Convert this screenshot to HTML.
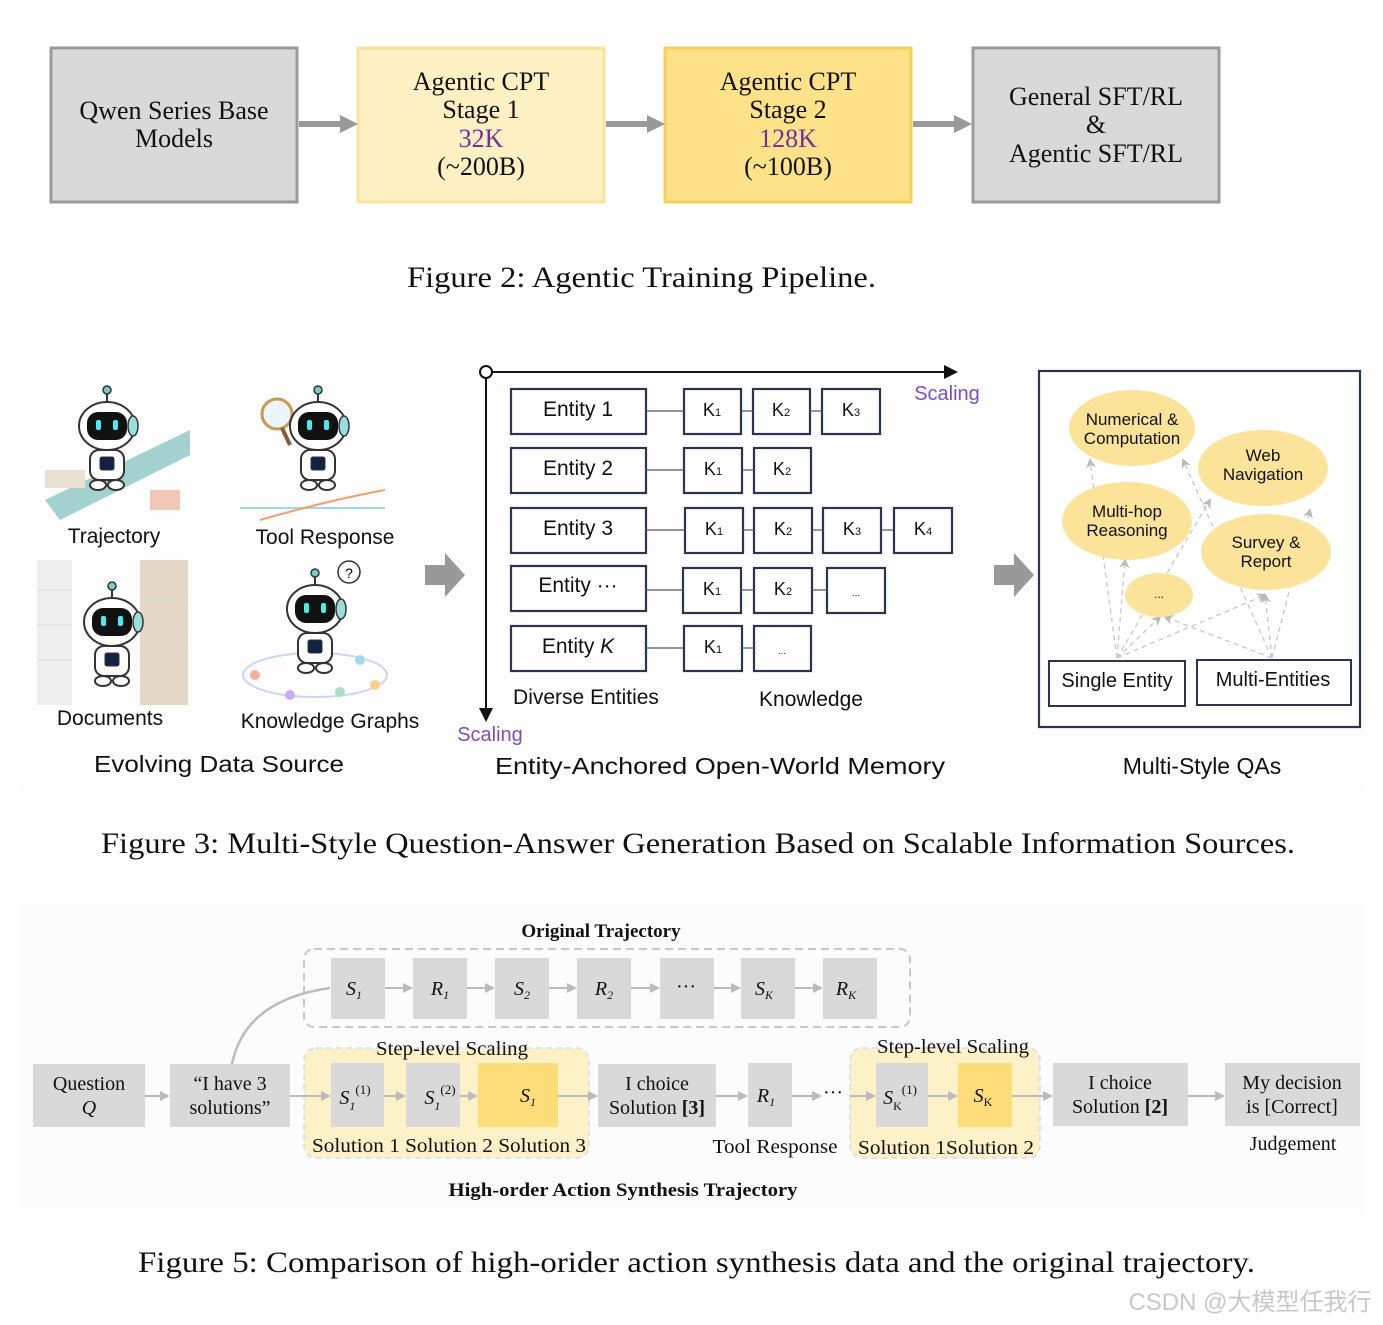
<!DOCTYPE html>
<html><head><meta charset="utf-8"><style>
body{margin:0;background:#fff;}
svg{display:block;}
.serif{font-family:"Liberation Serif",serif;}
.sans{font-family:"Liberation Sans","DejaVu Sans",sans-serif;}
</style></head><body>
<svg width="1383" height="1325" viewBox="0 0 1383 1325" xmlns="http://www.w3.org/2000/svg">
<defs>
<marker id="al" markerWidth="10" markerHeight="10" refX="8" refY="5" orient="auto" markerUnits="userSpaceOnUse"><path d="M0,0 L10,5 L0,10 z" fill="#bbb"/></marker>
<marker id="ab" markerWidth="14" markerHeight="14" refX="12" refY="7" orient="auto" markerUnits="userSpaceOnUse"><path d="M0,0 L14,7 L0,14 z" fill="#111"/></marker>
<marker id="ad" markerWidth="10" markerHeight="10" refX="8" refY="5" orient="auto" markerUnits="userSpaceOnUse"><path d="M0,0 L10,5 L0,10 L3,5 z" fill="#bbb"/></marker>
<g id="robot">
 <line x1="0" y1="-40" x2="0" y2="-28" stroke="#333" stroke-width="2"/>
 <circle cx="0" cy="-42" r="4" fill="#7cc9c9" stroke="#333" stroke-width="1.5"/>
 <ellipse cx="0" cy="-6" rx="28" ry="24" fill="#fff" stroke="#333" stroke-width="2"/>
 <rect x="-20" y="-20" width="40" height="28" rx="11" fill="#111"/>
 <rect x="-11" y="-12" width="5" height="10" rx="2" fill="#4ee"/>
 <rect x="6" y="-12" width="5" height="10" rx="2" fill="#4ee"/>
 <ellipse cx="26" cy="-6" rx="5" ry="10" fill="#9dd" stroke="#333" stroke-width="1.5"/>
 <rect x="-17" y="18" width="34" height="30" rx="9" fill="#fff" stroke="#333" stroke-width="2"/>
 <rect x="-7" y="25" width="14" height="13" rx="2" fill="#124" stroke="#333"/>
 <ellipse cx="-9" cy="53" rx="8" ry="5" fill="#fff" stroke="#333" stroke-width="2"/>
 <ellipse cx="9" cy="53" rx="8" ry="5" fill="#fff" stroke="#333" stroke-width="2"/>
</g>
</defs>

<!-- Figure 2 -->
<g class="serif" font-size="26" text-anchor="middle" fill="#111">
<rect x="51" y="48" width="246" height="154" fill="#d9d9d9" stroke="#9a9a9a" stroke-width="3"/>
<text x="174" y="119">Qwen Series Base</text><text x="174" y="147">Models</text>
<rect x="358" y="48" width="246" height="154" fill="#fdf0c2" stroke="#fbe29a" stroke-width="3"/>
<text x="481" y="90">Agentic CPT</text><text x="481" y="118">Stage 1</text>
<text x="481" y="147" fill="#7030a0">32K</text><text x="481" y="175">(~200B)</text>
<rect x="665" y="48" width="246" height="154" fill="#fde28a" stroke="#f8cf55" stroke-width="3"/>
<text x="788" y="90">Agentic CPT</text><text x="788" y="118">Stage 2</text>
<text x="788" y="147" fill="#7030a0">128K</text><text x="788" y="175">(~100B)</text>
<rect x="973" y="48" width="246" height="154" fill="#d9d9d9" stroke="#9a9a9a" stroke-width="3"/>
<text x="1096" y="105">General SFT/RL</text><text x="1096" y="133">&amp;</text><text x="1096" y="162">Agentic SFT/RL</text>
</g>
<g fill="#999">
<rect x="299" y="121" width="42" height="6"/><path d="M340,115 L358,124 L340,133z"/>
<rect x="606" y="121" width="42" height="6"/><path d="M647,115 L665,124 L647,133z"/>
<rect x="913" y="121" width="42" height="6"/><path d="M954,115 L972,124 L954,133z"/>
</g>
<text class="serif" x="407" y="287" font-size="30" textLength="469" lengthAdjust="spacingAndGlyphs" fill="#111">Figure 2: Agentic Training Pipeline.</text>

<!-- Figure 3 left -->
<rect x="20" y="360" width="1345" height="430" fill="#fdfdfd"/>
<path d="M45,500 L190,430 L190,455 L60,520z" fill="#8cc6c4" opacity="0.8"/>
<rect x="45" y="470" width="40" height="18" fill="#e8e0d0"/>
<rect x="150" y="490" width="30" height="20" fill="#f3c7b5"/>
<use href="#robot" x="107" y="432"/>
<line x1="240" y1="508" x2="385" y2="508" stroke="#9dd" stroke-width="2"/>
<path d="M260,520 Q330,500 385,490" stroke="#f0a070" stroke-width="2" fill="none"/>
<circle cx="277" cy="414" r="15" fill="#eaf6fb" stroke="#c89a50" stroke-width="3"/>
<line x1="282" y1="428" x2="290" y2="445" stroke="#8a5a30" stroke-width="4"/>
<use href="#robot" x="318" y="432"/>
<rect x="37" y="560" width="35" height="145" fill="#eee"/>
<rect x="140" y="560" width="48" height="145" fill="#e6d8c8"/>
<g stroke="#ddd"><line x1="37" y1="590" x2="72" y2="590"/><line x1="37" y1="625" x2="72" y2="625"/><line x1="37" y1="660" x2="72" y2="660"/><line x1="140" y1="600" x2="188" y2="600"/><line x1="140" y1="640" x2="188" y2="640"/></g>
<use href="#robot" x="112" y="628"/>
<ellipse cx="315" cy="675" rx="72" ry="22" fill="none" stroke="#c8d8f0" stroke-width="2"/>
<g fill="#f2b0a0"><circle cx="255" cy="675" r="5"/><circle cx="360" cy="660" r="5" fill="#a8d8f0"/><circle cx="290" cy="695" r="5" fill="#c8b0f0"/><circle cx="340" cy="692" r="5" fill="#a8e0c0"/><circle cx="375" cy="685" r="5" fill="#f7d38a"/></g>
<use href="#robot" x="315" y="615"/>
<circle cx="349" cy="572" r="11" fill="#fff" stroke="#333" stroke-width="1.5"/><text x="349" y="578" font-size="14" text-anchor="middle" class="sans">?</text>
<g class="sans" font-size="21" fill="#111" text-anchor="middle">
<text x="114" y="543">Trajectory</text>
<text x="325" y="544">Tool Response</text>
<text x="110" y="725">Documents</text>
<text x="330" y="728">Knowledge Graphs</text>
<text x="219" y="772" font-size="23" textLength="250" lengthAdjust="spacingAndGlyphs">Evolving Data Source</text>
</g>
<path d="M425,565 L445,565 L445,553 L465,575 L445,597 L445,585 L425,585z" fill="#999"/>
<path d="M994,565 L1014,565 L1014,553 L1034,575 L1014,597 L1014,585 L994,585z" fill="#999"/>

<!-- Figure 3 middle -->
<line x1="486" y1="372" x2="956" y2="372" stroke="#111" stroke-width="2" marker-end="url(#ab)"/>
<line x1="486" y1="372" x2="486" y2="720" stroke="#111" stroke-width="2" marker-end="url(#ab)"/>
<circle cx="486" cy="372" r="6" fill="#fff" stroke="#111" stroke-width="2"/>
<g fill="#fff" stroke="#2a3550" stroke-width="2.2">
<rect x="511" y="389" width="135" height="45"/><rect x="511" y="448" width="135" height="45"/><rect x="511" y="508" width="135" height="45"/><rect x="511" y="566" width="135" height="45"/><rect x="511" y="626" width="135" height="45"/>
<rect x="684" y="389" width="57" height="45"/><rect x="753" y="389" width="57" height="45"/><rect x="822" y="389" width="58" height="45"/>
<rect x="684" y="448" width="58" height="45"/><rect x="754" y="448" width="57" height="45"/>
<rect x="685" y="508" width="58" height="45"/><rect x="754" y="508" width="58" height="45"/><rect x="823" y="508" width="58" height="45"/><rect x="894" y="508" width="58" height="45"/>
<rect x="683" y="568" width="58" height="45"/><rect x="754" y="568" width="58" height="45"/><rect x="827" y="568" width="58" height="45"/>
<rect x="684" y="626" width="58" height="45"/><rect x="754" y="626" width="57" height="45"/>
</g>
<g stroke="#555" stroke-width="1.2">
<line x1="646" y1="411" x2="684" y2="411"/><line x1="741" y1="411" x2="753" y2="411"/><line x1="810" y1="411" x2="822" y2="411"/>
<line x1="646" y1="470" x2="684" y2="470"/><line x1="742" y1="470" x2="754" y2="470"/>
<line x1="646" y1="530" x2="685" y2="530"/><line x1="743" y1="530" x2="754" y2="530"/><line x1="812" y1="530" x2="823" y2="530"/><line x1="881" y1="530" x2="894" y2="530"/>
<line x1="646" y1="590" x2="683" y2="590"/><line x1="741" y1="590" x2="754" y2="590"/><line x1="812" y1="590" x2="827" y2="590"/>
<line x1="646" y1="648" x2="684" y2="648"/><line x1="742" y1="648" x2="754" y2="648"/>
</g>
<g class="sans" font-size="21" fill="#111" text-anchor="middle">
<text x="578" y="416">Entity 1</text><text x="578" y="475">Entity 2</text><text x="578" y="535">Entity 3</text><text x="578" y="592">Entity ···</text><text x="578" y="653">Entity <tspan font-style="italic">K</tspan></text>
<g font-size="18">
<text x="712" y="416">K<tspan font-size="11">1</tspan></text><text x="781" y="416">K<tspan font-size="11">2</tspan></text><text x="851" y="416">K<tspan font-size="11">3</tspan></text>
<text x="713" y="475">K<tspan font-size="11">1</tspan></text><text x="782" y="475">K<tspan font-size="11">2</tspan></text>
<text x="714" y="535">K<tspan font-size="11">1</tspan></text><text x="783" y="535">K<tspan font-size="11">2</tspan></text><text x="852" y="535">K<tspan font-size="11">3</tspan></text><text x="923" y="535">K<tspan font-size="11">4</tspan></text>
<text x="712" y="595">K<tspan font-size="11">1</tspan></text><text x="783" y="595">K<tspan font-size="11">2</tspan></text><text x="856" y="596" font-size="10">...</text>
<text x="713" y="653">K<tspan font-size="11">1</tspan></text><text x="782" y="654" font-size="10">...</text>
</g>
<text x="586" y="704">Diverse Entities</text><text x="811" y="706">Knowledge</text>
<text x="720" y="774" font-size="23" textLength="450" lengthAdjust="spacingAndGlyphs">Entity-Anchored Open-World Memory</text>
<text x="1202" y="774" font-size="23">Multi-Style QAs</text>
</g>
<g class="sans" font-size="20" fill="#7a4fc0" text-anchor="middle"><text x="947" y="400">Scaling</text><text x="490" y="741">Scaling</text></g>

<!-- Figure 3 right -->
<rect x="1039" y="371" width="321" height="356" fill="#fff" stroke="#2a3550" stroke-width="2.2"/>
<g stroke="#c8c8c8" stroke-width="1.3" stroke-dasharray="5,4" fill="none" marker-end="url(#ad)">
<line x1="1117" y1="658" x2="1090" y2="460"/><line x1="1117" y1="658" x2="1125" y2="560"/><line x1="1117" y1="658" x2="1160" y2="617"/><line x1="1117" y1="658" x2="1265" y2="595"/><line x1="1117" y1="658" x2="1210" y2="500"/>
<line x1="1272" y1="658" x2="1183" y2="460"/><line x1="1272" y1="658" x2="1165" y2="617"/><line x1="1272" y1="658" x2="1265" y2="595"/><line x1="1272" y1="658" x2="1310" y2="510"/>
</g>
<g fill="#fbe49a">
<ellipse cx="1132" cy="428" rx="63" ry="38"/><ellipse cx="1263" cy="468" rx="65" ry="38"/><ellipse cx="1127" cy="521" rx="65" ry="39"/><ellipse cx="1266" cy="552" rx="65" ry="38"/><ellipse cx="1159" cy="595" rx="34" ry="22"/>
</g>
<g class="sans" font-size="17" fill="#111" text-anchor="middle">
<text x="1132" y="425">Numerical &amp;</text><text x="1132" y="444">Computation</text>
<text x="1263" y="461">Web</text><text x="1263" y="480">Navigation</text>
<text x="1127" y="517">Multi-hop</text><text x="1127" y="536">Reasoning</text>
<text x="1266" y="548">Survey &amp;</text><text x="1266" y="567">Report</text>
<text x="1159" y="598" font-size="12">...</text>
</g>
<rect x="1049" y="661" width="136" height="45" fill="#fff" stroke="#2a3550" stroke-width="2"/>
<rect x="1197" y="660" width="154" height="45" fill="#fff" stroke="#2a3550" stroke-width="2"/>
<g class="sans" font-size="20" fill="#111" text-anchor="middle"><text x="1117" y="687">Single Entity</text><text x="1273" y="686">Multi-Entities</text></g>

<text class="serif" x="101" y="853" font-size="30" textLength="1194" lengthAdjust="spacingAndGlyphs" fill="#111">Figure 3: Multi-Style Question-Answer Generation Based on Scalable Information Sources.</text>

<!-- Figure 5 -->
<rect x="20" y="905" width="1345" height="305" fill="#fcfcfc"/>
<g class="serif" fill="#111" text-anchor="middle">
<text x="601" y="937" font-size="19" font-weight="bold">Original Trajectory</text>
<text x="623" y="1196" font-size="19" font-weight="bold" textLength="349" lengthAdjust="spacingAndGlyphs">High-order Action Synthesis Trajectory</text>
</g>
<rect x="304" y="949" width="606" height="78" rx="10" fill="none" stroke="#c8c8c8" stroke-width="2" stroke-dasharray="8,5"/>
<path d="M232,1064 Q245,1000 330,988" stroke="#bbb" stroke-width="2.5" fill="none"/>
<rect x="304" y="1048" width="285" height="110" rx="12" fill="#fdf1c8" stroke="#cfe0ee" stroke-width="1.5" stroke-dasharray="6,4"/>
<rect x="850" y="1048" width="190" height="110" rx="12" fill="#fdf1c8" stroke="#cfe0ee" stroke-width="1.5" stroke-dasharray="6,4"/>
<g fill="#d9d9d9">
<rect x="331" y="958" width="54" height="61"/><rect x="413" y="958" width="54" height="61"/><rect x="495" y="958" width="54" height="61"/><rect x="577" y="958" width="54" height="61"/><rect x="660" y="958" width="54" height="61"/><rect x="741" y="958" width="54" height="61"/><rect x="823" y="958" width="54" height="61"/>
<rect x="33" y="1064" width="112" height="63"/><rect x="170" y="1064" width="120" height="63"/>
<rect x="331" y="1063" width="53" height="64"/><rect x="406" y="1063" width="54" height="64"/>
<rect x="598" y="1064" width="118" height="63"/><rect x="748" y="1063" width="44" height="64"/>
<rect x="876" y="1063" width="52" height="64"/><rect x="1053" y="1063" width="135" height="63"/><rect x="1225" y="1063" width="135" height="63"/>
</g>
<rect x="478" y="1063" width="80" height="64" fill="#fddc7a"/><rect x="958" y="1063" width="54" height="64" fill="#fddc7a"/>
<g stroke="#bbb" stroke-width="2" marker-end="url(#al)">
<line x1="385" y1="988" x2="411" y2="988"/><line x1="467" y1="988" x2="493" y2="988"/><line x1="549" y1="988" x2="575" y2="988"/><line x1="631" y1="988" x2="658" y2="988"/><line x1="714" y1="988" x2="739" y2="988"/><line x1="795" y1="988" x2="821" y2="988"/>
<line x1="145" y1="1096" x2="168" y2="1096"/><line x1="290" y1="1096" x2="329" y2="1096"/><line x1="384" y1="1096" x2="404" y2="1096"/><line x1="460" y1="1096" x2="476" y2="1096"/><line x1="558" y1="1096" x2="596" y2="1096"/><line x1="716" y1="1096" x2="746" y2="1096"/><line x1="792" y1="1096" x2="820" y2="1096"/><line x1="850" y1="1096" x2="874" y2="1096"/><line x1="928" y1="1096" x2="956" y2="1096"/><line x1="1012" y1="1096" x2="1051" y2="1096"/><line x1="1188" y1="1096" x2="1223" y2="1096"/>
</g>
<g class="serif" fill="#111" text-anchor="middle" font-size="20">
<g font-style="italic"><text x="354" y="995">S<tspan font-size="12" dy="4">1</tspan></text><text x="440" y="995">R<tspan font-size="12" dy="4">1</tspan></text><text x="522" y="995">S<tspan font-size="12" dy="4">2</tspan></text><text x="604" y="995">R<tspan font-size="12" dy="4">2</tspan></text><text x="764" y="995">S<tspan font-size="12" dy="4">K</tspan></text><text x="846" y="995">R<tspan font-size="12" dy="4">K</tspan></text></g>
<text x="686" y="993">···</text>
<text x="89" y="1090">Question</text><text x="89" y="1114" font-style="italic">Q</text>
<text x="230" y="1090">“I have 3</text><text x="230" y="1114">solutions”</text>
<text x="355" y="1104" font-style="italic">S<tspan font-size="12" dy="6">1</tspan><tspan font-size="13" dy="-16" font-style="normal">(1)</tspan></text>
<text x="440" y="1104" font-style="italic">S<tspan font-size="12" dy="6">1</tspan><tspan font-size="13" dy="-16" font-style="normal">(2)</tspan></text>
<text x="528" y="1102" font-style="italic">S<tspan font-size="12" dy="4">1</tspan></text>
<text x="657" y="1090">I choice</text><text x="657" y="1114">Solution <tspan font-weight="bold">[3]</tspan></text>
<text x="766" y="1102" font-style="italic">R<tspan font-size="12" dy="4">1</tspan></text>
<text x="833" y="1099">···</text>
<text x="900" y="1104" font-style="italic">S<tspan font-size="12" dy="6" font-style="normal">K</tspan><tspan font-size="13" dy="-16" font-style="normal">(1)</tspan></text>
<text x="983" y="1102" font-style="italic">S<tspan font-size="12" dy="4" font-style="normal">K</tspan></text>
<text x="1120" y="1089">I choice</text><text x="1120" y="1113">Solution <tspan font-weight="bold">[2]</tspan></text>
<text x="1292" y="1089">My decision</text><text x="1292" y="1113">is  [Correct]</text>
<text x="452" y="1055" textLength="152" lengthAdjust="spacingAndGlyphs">Step-level Scaling</text><text x="953" y="1053" textLength="152" lengthAdjust="spacingAndGlyphs">Step-level Scaling</text>
<text x="449" y="1152" textLength="274" lengthAdjust="spacingAndGlyphs">Solution 1 Solution 2 Solution 3</text>
<text x="946" y="1154" textLength="176" lengthAdjust="spacingAndGlyphs">Solution 1Solution 2</text>
<text x="775" y="1153" textLength="125" lengthAdjust="spacingAndGlyphs">Tool Response</text><text x="1293" y="1150">Judgement</text>
</g>
<text class="serif" x="138" y="1272" font-size="30" textLength="1117" lengthAdjust="spacingAndGlyphs" fill="#111">Figure 5: Comparison of high-orider action synthesis data and the original trajectory.</text>
<text x="1250" y="1310" font-size="24" text-anchor="middle" fill="#c8c8c8" font-family="Liberation Sans, Noto Sans CJK SC, sans-serif">CSDN @大模型任我行</text>
</svg>
</body></html>
